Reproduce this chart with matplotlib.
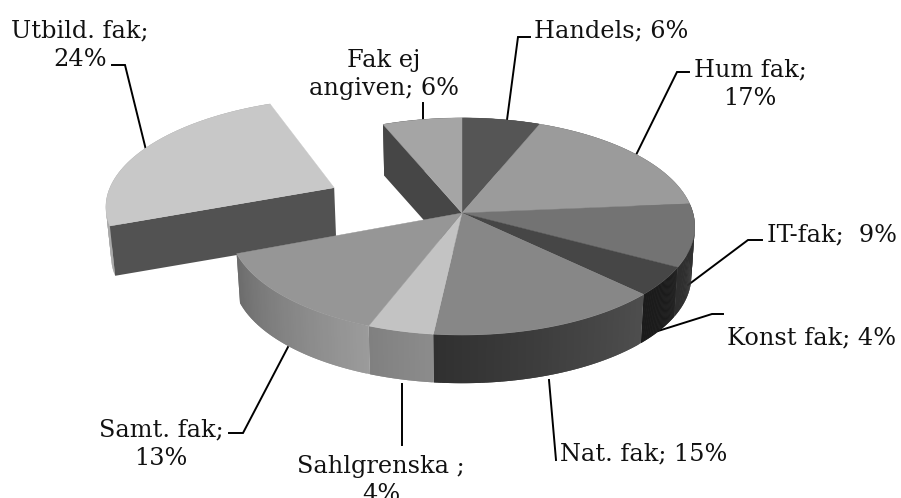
import numpy as np
import matplotlib
matplotlib.use("Agg")
import matplotlib.pyplot as plt
from matplotlib.patches import Polygon

# data (clockwise from the top), estimated from the slice boundaries
categories = ["Handels", "Hum fak", "IT-fak", "Konst fak", "Nat. fak",
              "Sahlgrenska", "Samt. fak", "Utbild. fak", "Fak ej angiven"]
values = [6.0, 17.14, 9.13, 4.23, 14.2, 4.0, 13.0, 24.2, 6.1]
explode = [0, 0, 0, 0, 0, 0, 0, 0.62, 0]

# styles
top_grey = [85, 155, 115, 70, 135, 195, 150, 200, 165]
side_grey = [(70, 70), (100, 100), (52, 46), (27, 27), (78, 48),
             (140, 128), (155, 108), (170, 170), (70, 70)]
inner_grey = {7: 82, 8: 70}

# projection of the flat disc
W, H = 901, 498
CX, CY = 462, 213
RX, RY = 231, 106.9
K = 0.124
DEPTH = 50
SHRINK = 0.985

def project(u, v, bottom=False):
    s = 1 / (1 - K * v)
    x = RX * u * s
    y = RY * v * s
    if bottom:
        return CX + x * SHRINK, CY + y * SHRINK + DEPTH
    return CX + x, CY + y

def g(n):
    return (n / 255, n / 255, n / 255)

fig = plt.figure(figsize=(W / 100, H / 100), dpi=100)
ax = fig.add_axes([0, 0, 1, 1])
ax.set_xlim(0, W)
ax.set_ylim(H, 0)
ax.axis("off")

total = sum(values)
edges = np.concatenate([[0], np.cumsum(values)]) / total * 2 * np.pi

def shift(i):
    mid = (edges[i] + edges[i + 1]) / 2
    return explode[i] * np.sin(mid), -explode[i] * np.cos(mid)

def arc(i, n=60):
    t = np.linspace(edges[i], edges[i + 1], n)
    du, dv = shift(i)
    return np.sin(t) + du, -np.cos(t) + dv

def draw_inner(i, side, z=2):
    du, dv = shift(i)
    a = edges[i + side]
    u, v = np.array([0, np.sin(a)]) + du, np.array([0, -np.cos(a)]) + dv
    pts = [project(u[0], v[0]), project(u[1], v[1]),
           project(u[1], v[1], True), project(u[0], v[0], True)]
    ax.add_patch(Polygon(pts, closed=True, fc=g(inner_grey[i]), ec="none", zorder=z))

def draw_side(i, z):
    u, v = arc(i)
    n = len(u)
    g0, g1 = side_grey[i]
    # each strip overlaps the next one so that no seams show
    for j in range(n - 1):
        e = min(j + 2, n - 1)
        top = [project(u[k], v[k]) for k in range(j, e + 1)]
        bot = [project(u[k], v[k], True) for k in range(e, j - 1, -1)]
        c = g(g0 + (g1 - g0) * j / (n - 2))
        ax.add_patch(Polygon(top + bot, closed=True, fc=c, ec="none", zorder=z))

def draw_top(i, z):
    u, v = arc(i)
    du, dv = shift(i)
    x, y = project(u, v)
    ax_, ay_ = project(du, dv)
    pts = np.column_stack([np.r_[ax_, x], np.r_[ay_, y]])
    c = g(top_grey[i])
    ax.add_patch(Polygon(pts, closed=True, fc=c, ec=c, lw=0.3, zorder=z))

# Back wall of the last slice, exploded slice, then the body of the pie
draw_inner(8, 0)
draw_side(7, 2.1)
draw_inner(7, 0, 2.15)
draw_top(7, 2.2)
for i in range(len(values)):
    if i != 7:
        draw_side(i, 3)
for i in range(len(values)):
    if i != 7:
        draw_top(i, 4)

# Leader lines
leaders = [
    [(503, 150), (518, 37), (530, 37)],
    [(636, 155), (677, 72), (689, 72)],
    [(688, 285), (748, 240), (762, 240)],
    [(658, 331), (712, 314), (723, 314)],
    [(549, 380), (556, 460)],
    [(402, 384), (402, 445)],
    [(288, 347), (243, 433), (229, 433)],
    [(146, 150), (125, 65), (112, 65)],
    [(423, 120), (423, 103)],
]
for pts in leaders:
    xs, ys = zip(*pts)
    ax.plot(xs, ys, color="black", lw=1.4, zorder=1, solid_joinstyle="miter")

# Labels (x centre, baseline of the last line)
label_text = ["Handels; 6%", "Hum fak;\n17%", "IT-fak;  9%", "Konst fak; 4%",
              "Nat. fak; 15%", "Sahlgrenska ;\n4%", "Samt. fak;\n13%",
              "Utbild. fak;\n24%", "Fak ej\nangiven; 6%"]
label_xy = [(611, 37), (750, 105), (832, 241), (812, 344), (644, 460),
            (381, 501), (161, 465), (80, 66), (384, 95)]
for s, (x, y) in zip(label_text, label_xy):
    ax.text(x, y, s, ha="center", va="baseline", family="DejaVu Serif",
            fontsize=17.3, color="#111111", linespacing=1.3, zorder=6,
            clip_on=True)

fig.savefig("out.png", dpi=100)
